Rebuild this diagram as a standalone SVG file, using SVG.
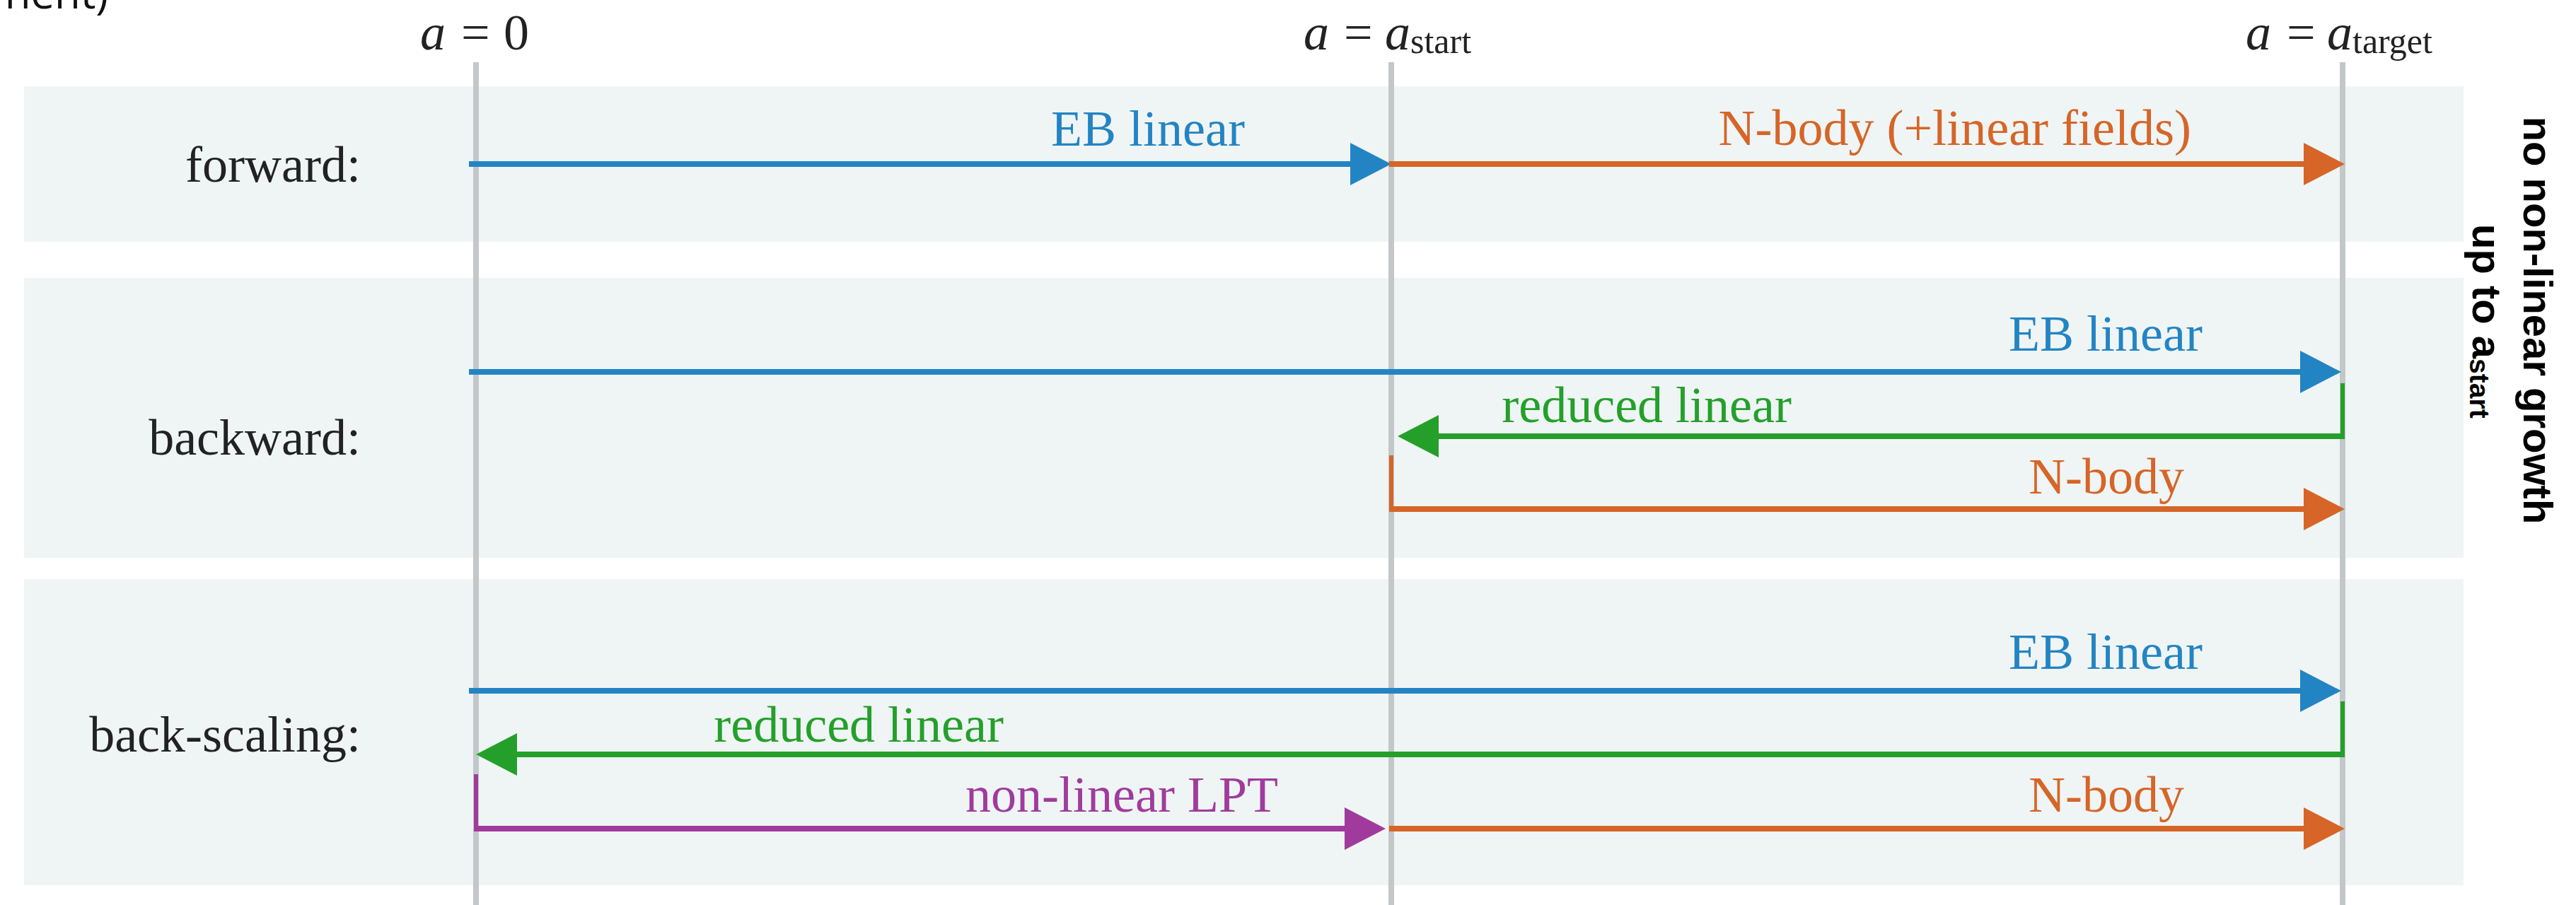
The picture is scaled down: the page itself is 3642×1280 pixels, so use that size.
<svg xmlns="http://www.w3.org/2000/svg" width="3642" height="1280" viewBox="0 0 3642 1280">
<style>
.band{fill:#eff5f5}
.axis{stroke:#c3c7c9;stroke-width:8;fill:none}
.lbl{font-family:"Liberation Serif","Times New Roman",serif;font-size:72px;fill:#222}
.math{font-family:"Liberation Serif","Times New Roman",serif;font-size:72px;fill:#222}
.sub{font-size:50px}
.it{font-style:italic}
.side{font-family:"Liberation Sans",Arial,sans-serif;font-weight:bold;font-size:58px;fill:#000}
.t{font-family:"Liberation Serif","Times New Roman",serif;font-size:72px}
.blue{stroke:#2384c3}.orange{stroke:#d66527}.green{stroke:#24a02a}.purple{stroke:#a03b9d}
.ln{stroke-width:8;fill:none}
.tick{stroke-width:6;fill:none}
</style>
<defs>
<marker id="hb" markerUnits="userSpaceOnUse" viewBox="0 0 58 60" markerWidth="58" markerHeight="60" refX="2" refY="30" orient="auto"><path d="M0,0 L58,30 L0,60 z" fill="#2384c3"/></marker>
<marker id="ho" markerUnits="userSpaceOnUse" viewBox="0 0 58 60" markerWidth="58" markerHeight="60" refX="2" refY="30" orient="auto"><path d="M0,0 L58,30 L0,60 z" fill="#d66527"/></marker>
<marker id="hg" markerUnits="userSpaceOnUse" viewBox="0 0 58 60" markerWidth="58" markerHeight="60" refX="2" refY="30" orient="auto"><path d="M0,0 L58,30 L0,60 z" fill="#24a02a"/></marker>
<marker id="hp" markerUnits="userSpaceOnUse" viewBox="0 0 58 60" markerWidth="58" markerHeight="60" refX="2" refY="30" orient="auto"><path d="M0,0 L58,30 L0,60 z" fill="#a03b9d"/></marker>
</defs>
<rect width="3642" height="1280" fill="#ffffff"/>
<text x="153" y="12" text-anchor="end" font-family="'Open Sans','Noto Sans',sans-serif" font-size="60" fill="#111">nent)</text>
<g id="bands">
<rect class="band" x="34" y="122" width="3449" height="220"/>
<rect class="band" x="34" y="393" width="3449" height="396"/>
<rect class="band" x="34" y="819" width="3449" height="433"/>
</g>
<g id="axes">
<line class="axis" x1="673" y1="88" x2="673" y2="1280"/>
<line class="axis" x1="1967" y1="88" x2="1967" y2="1280"/>
<line class="axis" x1="3312" y1="88" x2="3312" y2="1280"/>
<text class="math" y="70"><tspan x="594" class="it">a</tspan><tspan x="652">=</tspan><tspan x="712">0</tspan></text>
<text class="math" y="70"><tspan x="1843" class="it">a</tspan><tspan x="1900">=</tspan><tspan x="1958" class="it">a</tspan><tspan class="sub" dy="5">start</tspan></text>
<text class="math" y="70"><tspan x="3175" class="it">a</tspan><tspan x="3233">=</tspan><tspan x="3290" class="it">a</tspan><tspan class="sub" dy="5">target</tspan></text>
</g>
<g id="row-forward">
<text class="lbl" x="510" y="257" text-anchor="end">forward:</text>
<text class="t" x="1760" y="206" text-anchor="end" fill="#2384c3">EB linear</text>
<text class="t" x="3098" y="205" text-anchor="end" fill="#d66527">N-body (+linear fields)</text>
</g>
<g id="row-backward">
<text class="lbl" x="510" y="643" text-anchor="end">backward:</text>
<text class="t" x="3114" y="496" text-anchor="end" fill="#2384c3">EB linear</text>
<text class="t" x="2533" y="597" text-anchor="end" fill="#24a02a">reduced linear</text>
<text class="t" x="3088" y="698" text-anchor="end" fill="#d66527">N-body</text>
</g>
<g id="row-backscaling">
<text class="lbl" x="510" y="1063" text-anchor="end">back-scaling:</text>
<text class="t" x="3114" y="946" text-anchor="end" fill="#2384c3">EB linear</text>
<text class="t" x="1419" y="1049" text-anchor="end" fill="#24a02a">reduced linear</text>
<text class="t" x="1807" y="1148" text-anchor="end" fill="#a03b9d">non-linear LPT</text>
<text class="t" x="3088" y="1148" text-anchor="end" fill="#d66527">N-body</text>
</g>
<g id="note">
<text class="side" transform="translate(3568,453) rotate(90)" text-anchor="middle">no non-linear growth</text>
<text class="side" transform="translate(3496,317) rotate(90)">up to a<tspan font-size="39" dy="4">start</tspan></text>
</g>
<g id="connectors">
<path class="ln blue" d="M663,232 H1911" marker-end="url(#hb)"/>
<path class="ln orange" d="M1964,232 H3259" marker-end="url(#ho)"/>
<path class="ln blue" d="M663,526 H3254" marker-end="url(#hb)"/>
<path class="tick green" d="M3312,542 V621"/>
<path class="ln green" d="M3315,617 H2032" marker-end="url(#hg)"/>
<path class="tick orange" d="M1967,644 V724"/>
<path class="ln orange" d="M1964,720 H3259" marker-end="url(#ho)"/>
<path class="ln blue" d="M663,977 H3254" marker-end="url(#hb)"/>
<path class="tick green" d="M3312,992 V1071"/>
<path class="ln green" d="M3315,1067 H729" marker-end="url(#hg)"/>
<path class="tick purple" d="M673,1095 V1176"/>
<path class="ln purple" d="M670,1172 H1903" marker-end="url(#hp)"/>
<path class="ln orange" d="M1964,1172 H3259" marker-end="url(#ho)"/>
</g>
</svg>
